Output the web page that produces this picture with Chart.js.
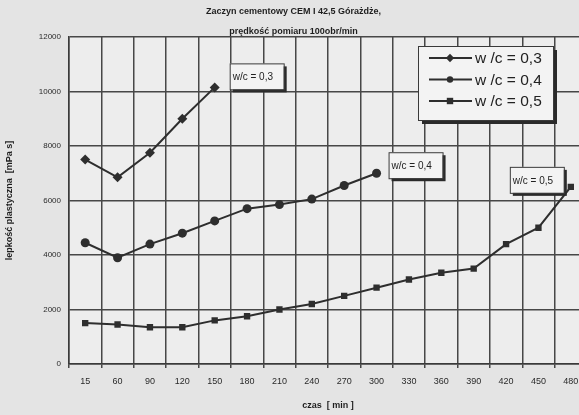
<!DOCTYPE html>
<html><head><meta charset="utf-8">
<script src="https://cdn.jsdelivr.net/npm/chart.js@4/dist/chart.umd.min.js"></script>
<style>
html,body{margin:0;padding:0;overflow:hidden;background:#e4e4e4;}
#wrap{width:600px;height:415px;position:relative;}
</style></head><body>
<div id="wrap"><canvas id="c" width="600" height="415"></canvas></div>
<script>
// time of measurement [min]
const czas = ['15','60','90','120','150','180','210','240','270','300','330','360','390','420','450','480'];
// plastic viscosity [mPa s] for each water/cement ratio
const wc03 = [7500, 6850, 7750, 9000, 10150, null, null, null, null, null, null, null, null, null, null, null];
const wc04 = [4450, 3900, 4400, 4800, 5250, 5700, 5850, 6050, 6550, 7000, null, null, null, null, null, null];
const wc05 = [1500, 1450, 1350, 1350, 1600, 1750, 2000, 2200, 2500, 2800, 3100, 3350, 3500, 4400, 5000, 6500];
const yTicks = [0, 2000, 4000, 6000, 8000, 10000, 12000];
const seriesNames = ['w /c = 0,3', 'w /c = 0,4', 'w /c = 0,5'];
const endLabels = ['w/c = 0,3', 'w/c = 0,4', 'w/c = 0,5'];

const INK = '#2e2e2e';
const FONT = '"Liberation Sans", Arial, sans-serif';

function lastIndex(arr) {
  for (let i = arr.length - 1; i >= 0; i--) if (arr[i] !== null) return i;
  return -1;
}

// box with a heavy drop shadow on the right and bottom
function shadowBox(ctx, x, y, w, h, s) {
  ctx.fillStyle = '#2a2a2a';
  ctx.fillRect(x + s, y + s, w, h);
  ctx.fillStyle = '#f3f3f3';
  ctx.fillRect(x, y, w, h);
  ctx.strokeStyle = '#3a3a3a';
  ctx.lineWidth = 1;
  ctx.strokeRect(x + 0.5, y + 0.5, w, h);
}

function drawMarker(ctx, style, x, y, r) {
  ctx.fillStyle = INK;
  ctx.beginPath();
  if (style === 'rect') {
    ctx.rect(x - r, y - r, 2 * r, 2 * r);
  } else if (style === 'rectRot') {
    ctx.moveTo(x, y - r * 1.3); ctx.lineTo(x + r * 1.3, y); ctx.lineTo(x, y + r * 1.3); ctx.lineTo(x - r * 1.3, y); ctx.closePath();
  } else {
    ctx.arc(x, y, r, 0, Math.PI * 2);
  }
  ctx.fill();
}

const bgPlugin = {
  id: 'bg',
  beforeDraw(chart) {
    const { ctx, chartArea: a } = chart;
    ctx.save();
    ctx.fillStyle = '#e4e4e4';
    ctx.fillRect(0, 0, chart.width, chart.height);
    ctx.fillStyle = '#ededed';
    ctx.fillRect(a.left, a.top, a.right - a.left, a.bottom - a.top);
    ctx.restore();
  }
};

// end-of-series labels and the framed legend
const annotatePlugin = {
  id: 'annotate',
  afterDatasetsDraw(chart, args, opts) {
    const ctx = chart.ctx;
    ctx.save();
    // labels next to the last point of each series
    chart.data.datasets.forEach((ds, i) => {
      const li = lastIndex(ds.data);
      const meta = chart.getDatasetMeta(i);
      const pt = meta.data[li];
      const off = opts.offsets[i];
      const w = 54, h = 26;
      const bx = pt.x + off[0], by = pt.y + off[1];
      shadowBox(ctx, bx, by, w, h, 3);
      ctx.fillStyle = '#222';
      ctx.font = '10px ' + FONT;
      ctx.textBaseline = 'middle';
      ctx.textAlign = 'left';
      ctx.fillText(endLabels[i], bx + 3, by + h / 2 + 1);
    });
    // legend
    const lx = 418, ly = 46, lw = 135, lh = 74;
    shadowBox(ctx, lx, ly, lw, lh, 4);
    chart.data.datasets.forEach((ds, i) => {
      const cy = ly + 12 + i * 21.5;
      ctx.strokeStyle = INK;
      ctx.lineWidth = 2;
      ctx.beginPath();
      ctx.moveTo(429, cy); ctx.lineTo(472, cy);
      ctx.stroke();
      drawMarker(ctx, ds.pointStyle, 450, cy, 3.2);
      ctx.fillStyle = '#222';
      ctx.font = '15.5px ' + FONT;
      ctx.textBaseline = 'middle';
      ctx.textAlign = 'left';
      ctx.fillText(ds.label, 475, cy + 1);
    });
    ctx.restore();
  }
};

const mk = (label, data, style) => ({
  label, data, pointStyle: style,
  borderColor: INK, backgroundColor: INK,
  borderWidth: 2, pointRadius: style === 'rectRot' ? 5 : 4.5,
  pointBorderWidth: 0, tension: 0, spanGaps: false
});

new Chart(document.getElementById('c'), {
  type: 'line',
  data: {
    labels: czas,
    datasets: [
      mk(seriesNames[0], wc03, 'rectRot'),
      mk(seriesNames[1], wc04, 'circle'),
      mk(seriesNames[2], wc05, 'rect')
    ]
  },
  options: {
    responsive: false,
    animation: false,
    layout: { padding: { left: 0, right: 13, top: 0, bottom: 0 } },
    plugins: {
      legend: { display: false },
      tooltip: { enabled: false },
      title: {
        display: true,
        text: ['Zaczyn cementowy CEM I 42,5 Górażdże,', 'prędkość pomiaru 100obr/min'],
        color: '#1e1e1e',
        font: { family: FONT, size: 9, weight: 'bold', lineHeight: 2.22 },
        padding: { top: 2, bottom: -5 }
      },
      annotate: { offsets: [[15, -24], [12, -21], [-61, -20]] }
    },
    scales: {
      x: {
        type: 'category',
        offset: true,
        grid: { offset: true, color: '#474747', lineWidth: 1.5, tickLength: 4, drawTicks: true },
        border: { color: '#3a3a3a', width: 1.5 },
        ticks: { color: '#2a2a2a', font: { family: FONT, size: 9 }, padding: 8, maxRotation: 0, autoSkip: false },
        title: { display: true, text: 'czas  [ min ]', color: '#1e1e1e', font: { family: FONT, size: 9, weight: 'bold' }, padding: { top: 4 } },
        afterFit(s) { s.height = 51; }
      },
      y: {
        min: 0, max: 12000,
        afterBuildTicks(s) { s.ticks = yTicks.map(v => ({ value: v })); },
        grid: { color: '#474747', lineWidth: 1.5, drawTicks: false },
        border: { color: '#3a3a3a', width: 1.5 },
        ticks: { color: '#2a2a2a', font: { family: FONT, size: 8 }, padding: 8, callback: v => String(v) },
        title: { display: true, text: 'lepkość plastyczna  [mPa s]', color: '#1e1e1e', font: { family: FONT, size: 9, weight: 'bold' }, padding: { bottom: 5 } },
        afterFit(s) { s.width = 69; }
      }
    }
  },
  plugins: [bgPlugin, annotatePlugin]
});
</script>
</body></html>
